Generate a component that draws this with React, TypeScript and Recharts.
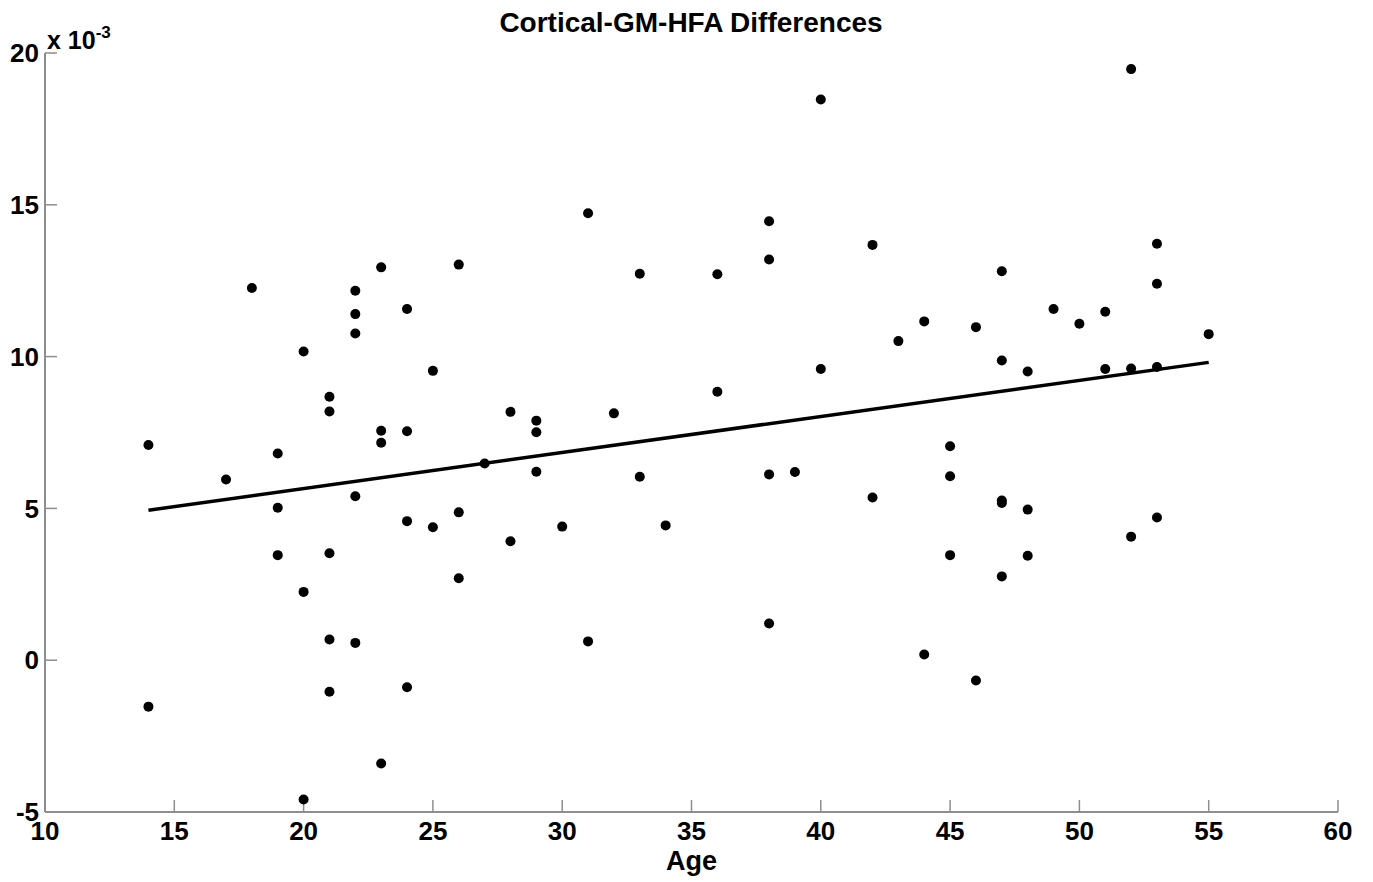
import React from 'react';
import { ScatterChart, Scatter, XAxis, YAxis } from 'recharts';

const title = 'Cortical-GM-HFA Differences';
const xLabel = 'Age';

const ages = [
  14, 14, 17, 18, 19, 19, 19, 20, 20, 20,
  21, 21, 21, 21, 21, 22, 22, 22, 22, 22,
  23, 23, 23, 23, 24, 24, 24, 24, 25, 25,
  26, 26, 26, 27, 28, 28, 29, 29, 29, 30,
  31, 31, 32, 33, 33, 34, 36, 36, 38, 38,
  38, 38, 39, 40, 40, 42, 42, 43, 44, 44,
  45, 45, 45, 46, 46, 47, 47, 47, 47, 47,
  48, 48, 48, 49, 50, 51, 51, 52, 52, 52,
  53, 53, 53, 53, 55,
];

const diffs = [
  7.09, -1.53, 5.95, 12.26, 6.81, 5.02, 3.46, 10.17, 2.25, -4.59,
  8.68, 8.19, 3.52, 0.68, -1.04, 12.17, 11.4, 10.76, 5.4, 0.57,
  12.94, 7.56, 7.16, -3.4, 11.57, 7.54, 4.58, -0.89, 9.53, 4.38,
  13.03, 4.87, 2.7, 6.48, 8.18, 3.92, 7.89, 7.51, 6.21, 4.4,
  14.72, 0.62, 8.13, 12.73, 6.04, 4.44, 12.71, 8.84, 14.46, 13.2,
  6.12, 1.21, 6.2, 18.47, 9.59, 13.68, 5.36, 10.51, 11.16, 0.19,
  7.05, 6.06, 3.46, 10.97, -0.67, 12.81, 9.87, 5.26, 5.18, 2.76,
  9.51, 4.96, 3.44, 11.57, 11.08, 11.48, 9.59, 19.47, 9.61, 4.07,
  13.72, 12.4, 9.66, 4.7, 10.74,
];

const fitAges = [14, 55];
const fitValues = [4.94, 9.81];

const xTicks = [10, 15, 20, 25, 30, 35, 40, 45, 50, 55, 60];
const yTicks = [-5, 0, 5, 10, 15, 20];

const points = ages.map((a, i) => ({ age: a, diff: diffs[i] }));
const fitLine = fitAges.map((a, i) => ({ age: a, diff: fitValues[i] }));

const FONT = '"Liberation Sans", Arial, Helvetica, sans-serif';
const AXIS_GRAY = '#8e8e8e';

const Dot = (props: any) => {
  const { cx, cy } = props;
  if (cx == null || cy == null) return <g />;
  return <circle cx={cx} cy={cy} r={5} fill="#000" />;
};

const NoDot = () => <g />;

const tickStyle = { fill: '#000', fontSize: 26, fontWeight: 'bold' as const, fontFamily: FONT };

export default function App() {
  return (
    <div style={{ position: 'absolute', left: 0, top: 0, width: 1373, height: 882, background: '#fff' }}>
      <ScatterChart
        width={1373}
        height={882}
        margin={{ top: 53, right: 35, bottom: 0, left: 0 }}
        style={{ background: '#fff' }}
      >
        <XAxis
          type="number"
          dataKey="age"
          domain={[10, 60]}
          ticks={xTicks}
          allowDataOverflow
          height={70}
          tickSize={-12}
          tickMargin={22}
          axisLine={{ stroke: AXIS_GRAY, strokeWidth: 2 }}
          tickLine={{ stroke: AXIS_GRAY, strokeWidth: 1.5 }}
          tick={tickStyle}
          interval={0}
          label={{
            content: (p: any) => {
              const vb = p.viewBox || {};
              return (
                <text
                  x={vb.x + vb.width / 2}
                  y={vb.y + 58}
                  textAnchor="middle"
                  fontSize={27}
                  fontWeight="bold"
                  fontFamily={FONT}
                  fill="#000"
                >
                  {xLabel}
                </text>
              );
            },
          }}
        />
        <YAxis
          type="number"
          dataKey="diff"
          domain={[-5, 20]}
          ticks={yTicks}
          allowDataOverflow
          width={45}
          tickSize={-12}
          tickMargin={18}
          axisLine={{ stroke: AXIS_GRAY, strokeWidth: 2 }}
          tickLine={{ stroke: AXIS_GRAY, strokeWidth: 1.5 }}
          tick={tickStyle}
          interval={0}
          label={{
            content: (p: any) => {
              const vb = p.viewBox || {};
              const lx = vb.x + vb.width + 2;
              return (
                <g>
                  <text
                    x={lx}
                    y={vb.y - 4}
                    fontSize={25}
                    fontWeight="bold"
                    fontFamily={FONT}
                    fill="#000"
                  >
                    x 10
                    <tspan dy={-11} fontSize={17}>-3</tspan>
                  </text>
                  <text
                    x={vb.x + vb.width + 646}
                    y={vb.y - 21}
                    textAnchor="middle"
                    fontSize={28}
                    fontWeight="bold"
                    fontFamily={FONT}
                    fill="#000"
                  >
                    {title}
                  </text>
                </g>
              );
            },
          }}
        />
        <Scatter
          data={fitLine}
          line={{ stroke: '#000', strokeWidth: 3.5 }}
          shape={NoDot}
          isAnimationActive={false}
        />
        <Scatter data={points} fill="#000" shape={Dot} isAnimationActive={false} />
      </ScatterChart>
    </div>
  );
}
